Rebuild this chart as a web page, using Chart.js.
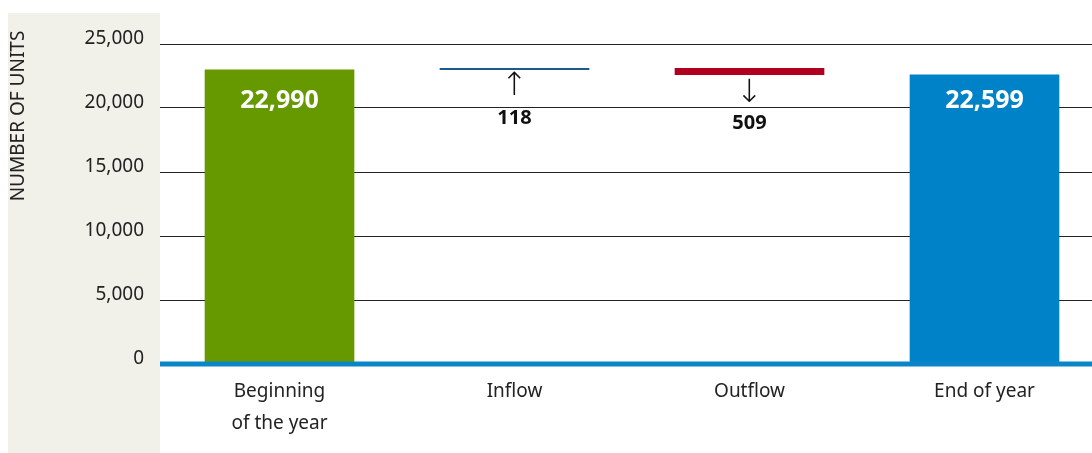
<!DOCTYPE html>
<html>
<head>
<meta charset="utf-8">
<script src="https://cdn.jsdelivr.net/npm/chart.js@4.4.1/dist/chart.umd.min.js"></script>
<style>
  html,body{margin:0;padding:0;background:#fff;overflow:hidden;width:1092px;height:453px;}
  #wrap{position:relative;width:1102px;height:453px;}
</style>
</head>
<body>
<div id="wrap"><canvas id="units" width="1102" height="453"></canvas></div>
<script>
// unit stock movement over the year
var categories = [["Beginning","of the year"], "Inflow", "Outflow", "End of year"];
var beginning = 22990;
var inflow = 118;
var outflow = 509;
var endOfYear = 22599;
var yTicks = [0, 5000, 10000, 15000, 20000, 25000];
var barColors = ["#669900", "#1d5a8c", "#b1001f", "#0082c8"];

var FONT = "'Noto Sans', 'Open Sans', sans-serif";

function fmt(n){ return Number(n).toLocaleString("en-US"); }

// floating bars: totals from zero, movements stacked on top
var bars = [
  [0, beginning],
  [beginning, beginning + inflow],
  [beginning + inflow, beginning + inflow - outflow],
  [0, endOfYear]
];

var panel = {
  id: "panel",
  beforeDraw: function(chart){
    var c = chart.ctx;
    c.save();
    c.fillStyle = "#f1f0e9";
    c.fillRect(8, 13, 152, 440);
    c.fillStyle = "#222";
    c.font = "19px " + FONT;
    c.translate(19, 116);
    c.rotate(-Math.PI/2);
    c.textAlign = "center";
    c.textBaseline = "middle";
    c.fillText("NUMBER OF UNITS", 0, 0);
    c.restore();
  }
};

var labels = {
  id: "labels",
  afterDatasetsDraw: function(chart){
    var c = chart.ctx, y = chart.scales.y;
    var meta = chart.getDatasetMeta(0).data;
    c.save();
    // zero line
    c.strokeStyle = "#0a85c7";
    c.lineWidth = 5;
    c.beginPath();
    c.moveTo(160, y.getPixelForValue(0));
    c.lineTo(chart.width, y.getPixelForValue(0));
    c.stroke();

    c.textAlign = "center";
    c.textBaseline = "middle";
    // totals inside bars
    c.fillStyle = "#fff";
    c.font = "bold 25px " + FONT;
    c.fillText(fmt(beginning), meta[0].x, 101);
    c.fillText(fmt(endOfYear), meta[3].x, 101);

    // movements with arrows
    c.fillStyle = "#111";
    c.font = "200 32px 'DejaVu Sans', sans-serif";
    c.fillText("\u2191", meta[1].x, 87);
    c.fillText("\u2193", meta[2].x, 94);
    c.font = "bold 20px " + FONT;
    c.fillText(fmt(inflow), meta[1].x, 118);
    c.fillText(fmt(outflow), meta[2].x, 123);
    c.restore();
  }
};

new Chart(document.getElementById("units"), {
  type: "bar",
  data: {
    labels: categories,
    datasets: [{
      data: bars,
      backgroundColor: barColors,
      borderWidth: 0,
      borderSkipped: false,
      barThickness: 149
    }]
  },
  options: {
    responsive: false,
    animation: false,
    layout: { padding: { top: 44, right: 0, bottom: 0, left: 0 } },
    plugins: { legend: { display: false }, tooltip: { enabled: false } },
    scales: {
      x: {
        grid: { display: false },
        border: { display: false },
        ticks: {
          color: "#222",
          font: { family: FONT, size: 19, lineHeight: "32px" },
          padding: 4,
          maxRotation: 0,
          autoSkip: false
        },
        afterFit: function(s){ s.height = 89; }
      },
      y: {
        min: 0,
        max: 25000,
        afterBuildTicks: function(s){ s.ticks = yTicks.map(function(v){ return {value: v}; }); },
        grid: {
          color: function(ctx){ return ctx.tick && ctx.tick.value === 0 ? "rgba(0,0,0,0)" : "#222"; },
          lineWidth: 1,
          drawTicks: true,
          tickLength: 2
        },
        border: { display: false },
        ticks: {
          color: "#222",
          font: { family: FONT, size: 19, lineHeight: "10px" },
          padding: 16,
          // blank second line lifts each label a little above its grid line
          callback: function(v){ return [fmt(v), ""]; }
        },
        afterFit: function(s){ s.width = 162; }
      }
    }
  },
  plugins: [panel, labels]
});
</script>
</body>
</html>
